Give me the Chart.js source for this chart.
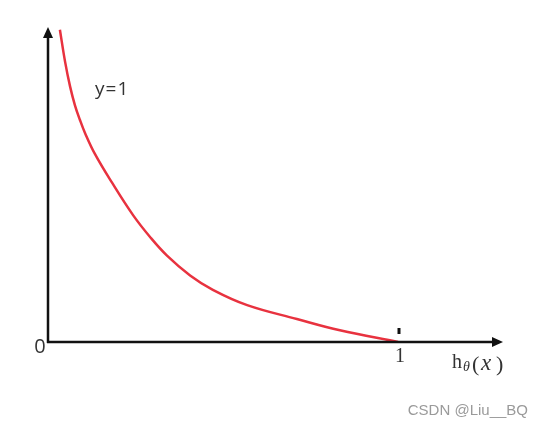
<!DOCTYPE html>
<html>
<head>
<meta charset="utf-8">
<script src="https://cdn.jsdelivr.net/npm/chart.js@4"></script>
<style>
  html,body{margin:0;padding:0;background:#fff;}
  #wrap{width:544px;height:429px;position:relative;}
</style>
</head>
<body>
<div id="wrap"><canvas id="c" width="544" height="429"></canvas></div>
<script>
// valores (h, coste) para y=1
const H_VALUES = [0.034, 0.049, 0.063, 0.077, 0.091, 0.106, 0.134, 0.183, 0.243, 0.291, 0.340, 0.406, 0.471, 0.569, 0.711, 0.834, 1.0];
const COST_VALUES = [3.47, 3.11, 2.84, 2.63, 2.47, 2.32, 2.09, 1.77, 1.41, 1.17, 0.96, 0.74, 0.58, 0.41, 0.256, 0.13, 0.0];
const X_TICK = 1;
const CURVE_LABEL = 'y=1';
const X_MAX = 1.3, Y_MAX = 3.5;

const points = H_VALUES.map((h,i)=>({x:h, y:COST_VALUES[i]}));

// ejes con flechas y textos
const axesPlugin = {
  id:'axesArrows',
  afterDraw(chart){
    const {ctx, scales:{x, y}} = chart;
    const x0 = x.getPixelForValue(0), y0 = y.getPixelForValue(0);
    const xEnd = x.getPixelForValue(X_MAX), yEnd = y.getPixelForValue(Y_MAX);
    ctx.save();
    ctx.strokeStyle = '#111'; ctx.fillStyle = '#111'; ctx.lineWidth = 2.5;
    ctx.beginPath(); ctx.moveTo(x0, y0+1); ctx.lineTo(x0, yEnd+8); ctx.stroke();
    ctx.beginPath(); ctx.moveTo(x0-1, y0); ctx.lineTo(xEnd-8, y0); ctx.stroke();
    // flechas
    ctx.beginPath(); ctx.moveTo(x0, yEnd); ctx.lineTo(x0-5, yEnd+11); ctx.lineTo(x0+5, yEnd+11); ctx.closePath(); ctx.fill();
    ctx.beginPath(); ctx.moveTo(xEnd, y0); ctx.lineTo(xEnd-11, y0-5); ctx.lineTo(xEnd-11, y0+5); ctx.closePath(); ctx.fill();
    // marca en x=1
    const xt = x.getPixelForValue(X_TICK);
    ctx.lineWidth = 3;
    ctx.beginPath(); ctx.moveTo(xt+1, y0-14); ctx.lineTo(xt+1, y0-8); ctx.stroke();
    // textos
    ctx.fillStyle = '#333';
    ctx.textBaseline = 'alphabetic';
    ctx.textAlign = 'center';
    ctx.font = '20px "Open Sans", sans-serif';
    ctx.fillText('0', x0-8, y0+11);
    ctx.font = '20px "Liberation Serif", serif';
    ctx.fillText(String(X_TICK), xt+2, y0+20);
    ctx.textAlign = 'left';
    ctx.font = '19px "Open Sans", sans-serif';
    ctx.letterSpacing = '1px';
    ctx.fillText(CURVE_LABEL, 95, 95);
    ctx.letterSpacing = '0px';
    // h_θ(x)
    const base = 368;
    ctx.font = '20px "Liberation Serif", serif';
    ctx.fillText('h', 452, base);
    ctx.font = 'italic 14px "Liberation Serif", serif';
    ctx.fillText('θ', 463, base+3);
    ctx.font = '22px "Liberation Serif", serif';
    ctx.fillText('(', 472, base+3);
    ctx.font = 'italic 23px "Liberation Serif", serif';
    ctx.fillText('x', 481, base+2);
    ctx.font = '22px "Liberation Serif", serif';
    ctx.fillText(')', 496, base+3);
    // marca de agua
    ctx.fillStyle = '#9a9a9a';
    ctx.font = '15px "Liberation Sans", sans-serif';
    ctx.textAlign = 'right';
    ctx.fillText('CSDN @Liu__BQ', 528, 415);
    ctx.restore();
  }
};

new Chart(document.getElementById('c'), {
  type:'scatter',
  data:{datasets:[{
    data:points, showLine:true, borderColor:'#e8323f', borderWidth:2.5,
    pointRadius:0, tension:0.4, fill:false
  }]},
  options:{
    responsive:false, animation:false,
    layout:{padding:{left:48, top:27, right:41, bottom:87}},
    plugins:{legend:{display:false}, tooltip:{enabled:false}},
    scales:{
      x:{type:'linear', min:0, max:X_MAX, display:false},
      y:{type:'linear', min:0, max:Y_MAX, display:false}
    }
  },
  plugins:[axesPlugin]
});
</script>
</body>
</html>
